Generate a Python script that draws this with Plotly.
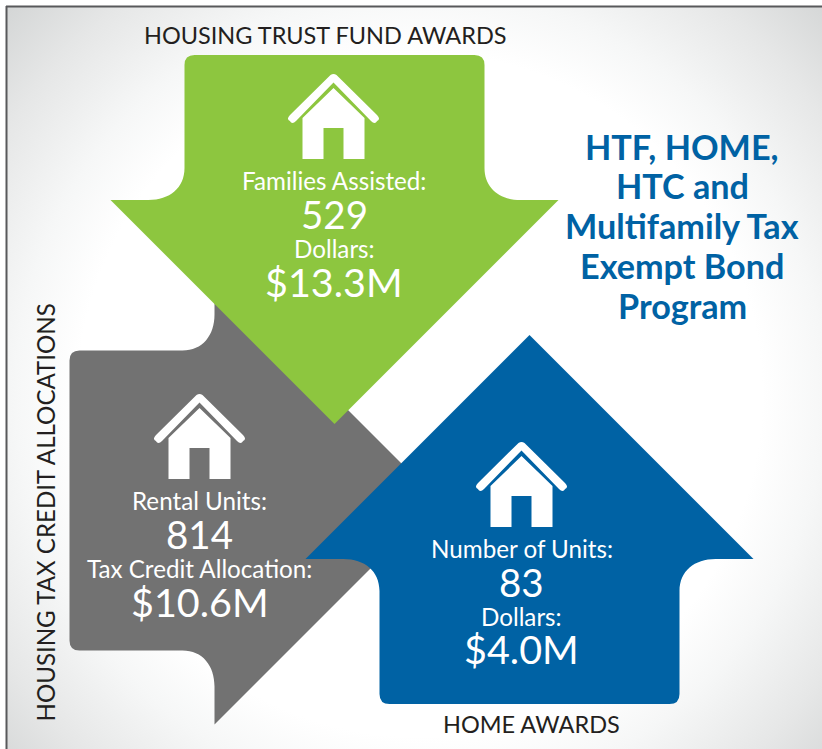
import math
import plotly.graph_objects as go

# ---- data ----
panel_titles = ["HOUSING TRUST FUND AWARDS", "HOUSING TAX CREDIT ALLOCATIONS", "HOME AWARDS"]
count_labels = ["Families Assisted:", "Rental Units:", "Number of Units:"]
count_values = [529, 814, 83]
money_labels = ["Dollars:", "Tax Credit Allocation:", "Dollars:"]
money_values = [13.3, 10.6, 4.0]
headline = ["HTF, HOME,", "HTC and", "Multifamily Tax", "Exempt Bond", "Program"]

GREEN, GRAY, BLUE = "#8dc63f", "#727272", "#0062a4"
INK = "#231f20"
FONT = "Lato"

W, H = 822, 749

def arrow(ox, oy, dx, dy):
    """Arrow outline: u runs from the back edge to the tip, v across it."""
    def p(u, v):
        return ox + dx * u - dy * v, oy + dy * u + dx * v
    def s(*pts):
        return " ".join(f"{a:.1f},{b:.1f}" for a, b in (p(*q) for q in pts))
    return (f"M {s((0,-140))} L {s((0,140))} Q {s((0,150))} {s((10,150))} "
            f"L {s((113,150))} C {s((133,150))} {s((145,165))} {s((145,186))} "
            f"L {s((145,224))} L {s((369,0))} L {s((145,-224))} L {s((145,-186))} "
            f"C {s((145,-165))} {s((133,-150))} {s((113,-150))} "
            f"L {s((10,-150))} Q {s((0,-150))} {s((0,-140))} Z")

def house(cx, base):
    body = [(-31, 0), (-31, -41), (0, -71), (31, -41), (31, 0), (10, 0), (10, -31), (-10, -31), (-10, 0)]
    path = "M " + " L ".join(f"{cx+a},{base+b}" for a, b in body) + " Z"
    # roof chevron as a filled outline with rounded ends and apex
    hw = 4.3
    ex, ey, ay = 40.5, -41.0, -81.0
    L = math.hypot(ex, ey - ay)
    nx, ny = (ey - ay) / L * hw, ex / L * hw       # normal of the right-hand slope
    tx, ty = ex / L * hw, (ey - ay) / L * hw       # its direction
    pts = lambda a, b: f"{cx+a:.1f},{base+b:.1f}"
    roof = (f"M {pts(-nx, ay-ny)} Q {pts(0, ay-ny*1.55)} {pts(nx, ay-ny)} "
            f"L {pts(ex+nx, ey-ny)} Q {pts(ex+nx+tx*1.3, ey-ny+ty*1.3)} {pts(ex+tx, ey+ty)} "
            f"Q {pts(ex-nx+tx*1.3, ey+ny+ty*1.3)} {pts(ex-nx, ey+ny)} "
            f"L {pts(0, ay+ny*1.45)} L {pts(-ex+nx, ey+ny)} "
            f"Q {pts(-ex+nx-tx*1.3, ey+ny+ty*1.3)} {pts(-ex-tx, ey+ty)} "
            f"Q {pts(-ex-nx-tx*1.3, ey-ny+ty*1.3)} {pts(-ex-nx, ey-ny)} Z")
    return [
        dict(type="path", path=path, fillcolor="white", line=dict(width=0), layer="above"),
        dict(type="path", path=roof, fillcolor="white", line=dict(width=0), layer="above"),
    ]

arrows = [
    (GREEN, (334.5, 55, 0, 1)),
    (BLUE, (529.5, 704, 0, -1)),
]
shapes = [dict(type="path", path=arrow(69.5, 500.5, 1, 0), fillcolor=GRAY, line=dict(width=0), layer="below")]
for color, a in arrows:
    shapes.append(dict(type="path", path=arrow(*a), fillcolor=color, line=dict(width=0), layer="below"))
shapes += house(333.5, 159) + house(199.5, 479) + house(521.5, 527)
shapes += [
    dict(type="line", x0=6, x1=W, y0=6.5, y1=6.5, line=dict(color="#58595b", width=2), layer="above"),
    dict(type="line", x0=6.5, x1=6.5, y0=6, y1=H, line=dict(color="#58595b", width=2), layer="above"),
]

def label(x, y, text, size, color="white", **kw):
    return dict(x=x, y=y, xref="x", yref="y", text=text, showarrow=False, xanchor="center",
                yanchor="middle", font=dict(family=FONT, size=size, color=color), **kw)

annotations = [
    label(325, 35, panel_titles[0], 23.5, INK),
    label(45, 512.5, panel_titles[1], 24.1, INK, textangle=-90),
    label(531, 724, panel_titles[2], 23.5, INK),
]
blocks = [(334, (180, 214, 248, 281.5)), (199.5, (500, 534, 568, 601.5)), (521.5, (548, 582, 616, 648.5))]
for i, (x, ys) in enumerate(blocks):
    annotations += [
        label(x, ys[0], count_labels[i], 24.2),
        label(x, ys[1], str(count_values[i]), 38.5),
        label(x, ys[2], money_labels[i], 24.2),
        label(x, ys[3], f"${money_values[i]:.1f}M", 39.5),
    ]
for line, y in zip(headline, (146, 185, 225, 265, 305)):
    annotations.append(label(682, y, f"<b>{line}</b>", 34.2, BLUE))

svg = (f"<svg xmlns='http://www.w3.org/2000/svg' width='{W}' height='{H}'>"
       "<defs><radialGradient id='g' gradientUnits='userSpaceOnUse' cx='420' cy='395' r='570'>"
       "<stop offset='0.6' stop-color='#ffffff'/><stop offset='0.71' stop-color='#f6f7f7'/>"
       "<stop offset='0.86' stop-color='#e6e7e7'/><stop offset='1' stop-color='#d3d5d5'/>"
       "</radialGradient></defs>"
       f"<rect x='6' y='6' width='{W}' height='{H}' fill='url(#g)'/></svg>")
svg_uri = "data:image/svg+xml," + svg.replace("<", "%3C").replace(">", "%3E").replace("#", "%23")

fig = go.Figure()
fig.update_layout(
    width=W, height=H, margin=dict(l=0, r=0, t=0, b=0, pad=0),
    paper_bgcolor="white", plot_bgcolor="rgba(0,0,0,0)", showlegend=False,
    xaxis=dict(range=[0, W], visible=False, fixedrange=True),
    yaxis=dict(range=[H, 0], visible=False, fixedrange=True),
    shapes=shapes, annotations=annotations,
    images=[dict(source=svg_uri, xref="paper", yref="paper", x=0, y=1, sizex=1, sizey=1,
                 xanchor="left", yanchor="top", sizing="stretch", layer="below")],
)
fig.write_html("out.html", config=dict(displayModeBar=False),
               post_script="document.body.style.margin='0';")
